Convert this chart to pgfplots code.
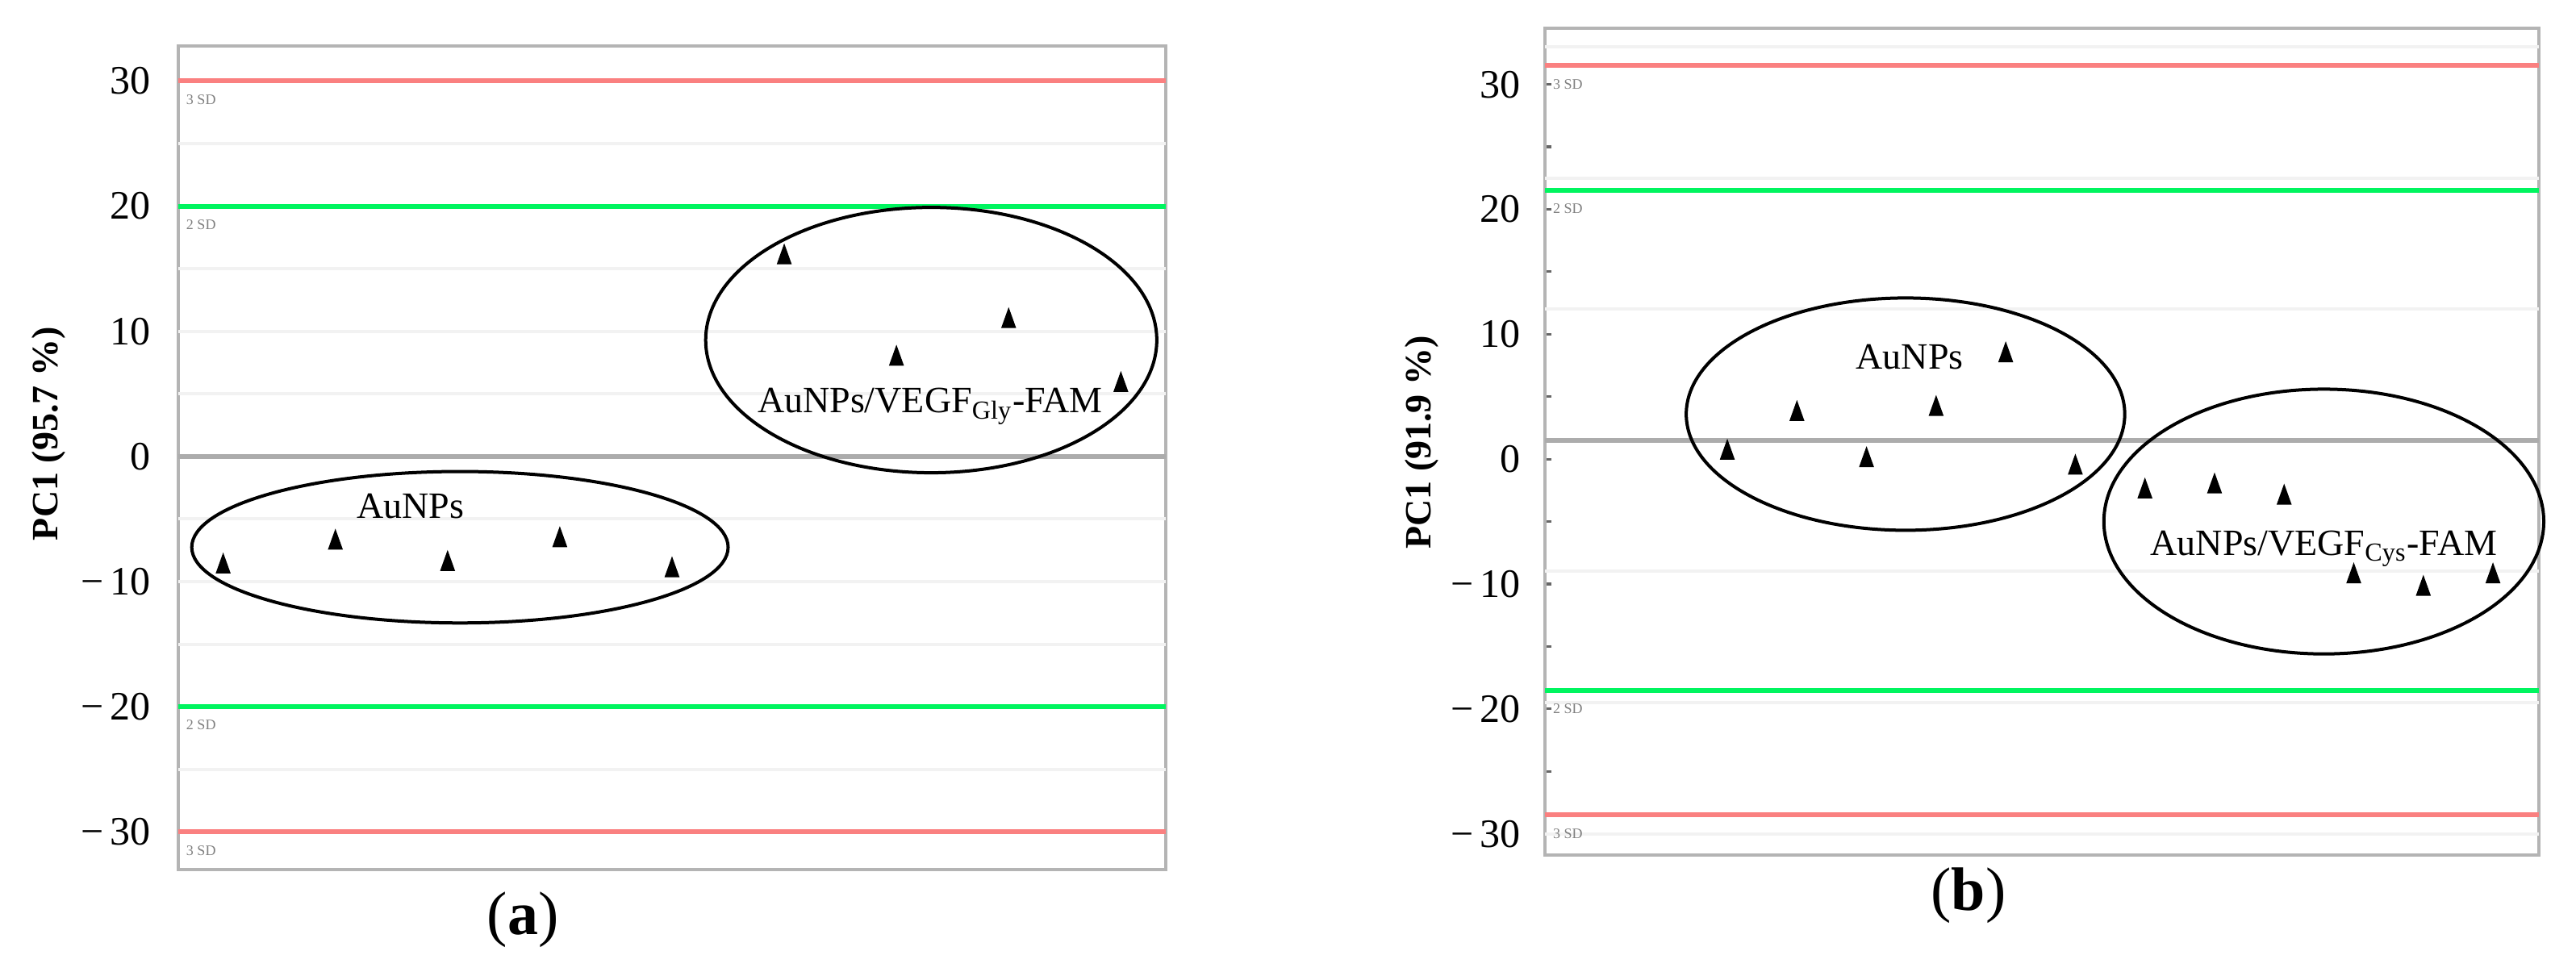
\documentclass[border=0pt]{standalone}
\usepackage{fontspec}
\setmainfont{Liberation Serif}
\usepackage{pgfplots}
\pgfplotsset{compat=1.18}

\definecolor{sdred}{RGB}{250,128,128}
\definecolor{sdgreen}{RGB}{0,245,95}
\definecolor{gridgray}{RGB}{242,242,242}
\definecolor{framegray}{RGB}{180,180,180}
\definecolor{meangray}{RGB}{172,172,172}

\pgfplotsset{
  pca/.style={
    scale only axis,
    anchor=south west,
    clip=false,
    axis line style={framegray, line width=1.1pt},
    xtick=\empty,
    ytick={-30,-20,-10,0,10,20,30},
    yticklabels={−\,30,−\,20,−\,10,0,10,20,30},
    ytick pos=left,
    minor ytick={-25,-15,-5,5,15,25},
    major tick length=2pt,
    minor tick length=2pt,
    tick style={black!60, line width=0.8pt},
    yticklabel style={font=\fontsize{12.5}{13}\selectfont},
    ylabel style={font=\fontsize{11.5}{12}\selectfont\bfseries, anchor=center},
  },
}
\tikzset{
  sd/.style={font=\fontsize{4.5}{5}\selectfont, text=gray, anchor=north west, inner sep=0pt},
  note/.style={font=\fontsize{11.5}{12}\selectfont},
}

\begin{document}
\begin{tikzpicture}
\path[use as bounding box] (0,0) rectangle (798.25pt,301.25pt);

% ---------- (a) ----------
\begin{axis}[pca,
  at={(55.25pt,31.75pt)}, width=306pt, height=255.25pt,
  xmin=0.6, xmax=9.4, ymin=-33.0, ymax=32.8,
  yticklabel style={xshift=-5pt},
  ylabel={PC1 (95.7 \%)},
  ylabel style={at={(axis description cs:-0.1315,0.529)}},
]
\pgfplotsinvokeforeach{-25,-15,-10,-5,5,10,15,25}{
  \addplot[gridgray, line width=1pt, forget plot] coordinates {(0.6,#1) (9.4,#1)};
}
\addplot[meangray, line width=1.3pt] coordinates {(0.6,0) (9.4,0)};
\addplot[sdgreen, line width=1.5pt] coordinates {(0.6,20) (9.4,20)};
\addplot[sdgreen, line width=1.5pt] coordinates {(0.6,-20) (9.4,-20)};
\addplot[sdred, line width=1.5pt] coordinates {(0.6,30) (9.4,30)};
\addplot[sdred, line width=1.5pt] coordinates {(0.6,-30) (9.4,-30)};
% samples
\addplot[only marks, mark=triangle*, mark size=3.8pt, mark options={black, xscale=0.62}]
  coordinates {(1,-8.8) (2,-6.9) (3,-8.6) (4,-6.7) (5,-9.1)
               (6,15.9) (7,7.8) (8,10.8) (9,5.7)};
\draw[line width=1pt] (axis cs:3.11,-7.25) ellipse [x radius=2.39, y radius=6.05];
\draw[line width=1pt] (axis cs:7.31,9.3) ellipse [x radius=2.01, y radius=10.6];
\node[note] at (axis cs:2.67,-4.0) {AuNPs};
\node[note] at (axis cs:7.3,4.0) {AuNPs/VEGF\textsubscript{Gly}-FAM};
\node[sd] at (axis cs:0.6,30) [xshift=2.3pt, yshift=-4pt] {3 SD};
\node[sd] at (axis cs:0.6,20) [xshift=2.3pt, yshift=-4pt] {2 SD};
\node[sd] at (axis cs:0.6,-20) [xshift=2.3pt, yshift=-4pt] {2 SD};
\node[sd] at (axis cs:0.6,-30) [xshift=2.3pt, yshift=-4pt] {3 SD};
\end{axis}

% ---------- (b) ----------
\begin{axis}[pca,
  at={(478.75pt,36.25pt)}, width=308pt, height=256.25pt,
  xmin=-1.62, xmax=12.66, ymin=-31.7, ymax=34.5,
  yticklabel style={xshift=-4pt},
  ylabel={PC1 (91.9 \%)},
  ylabel style={at={(axis description cs:-0.124,0.499)}},
]
\pgfplotsinvokeforeach{-30,-19.5,-9,12,22.5,33}{
  \addplot[gridgray, line width=1pt, forget plot] coordinates {(-1.62,#1) (12.66,#1)};
}
\addplot[meangray, line width=1.3pt] coordinates {(-1.62,1.5) (12.66,1.5)};
\addplot[sdgreen, line width=1.5pt] coordinates {(-1.62,21.5) (12.66,21.5)};
\addplot[sdgreen, line width=1.5pt] coordinates {(-1.62,-18.5) (12.66,-18.5)};
\addplot[sdred, line width=1.5pt] coordinates {(-1.62,31.5) (12.66,31.5)};
\addplot[sdred, line width=1.5pt] coordinates {(-1.62,-28.5) (12.66,-28.5)};
% samples
\addplot[only marks, mark=triangle*, mark size=3.8pt, mark options={black, xscale=0.62}]
  coordinates {(1,0.5) (2,3.6) (3,-0.1) (4,4.0) (5,8.3) (6,-0.7)
               (7,-2.6) (8,-2.2) (9,-3.1) (10,-9.4) (11,-10.4) (12,-9.4)};
\draw[line width=1pt] (axis cs:3.56,3.6) ellipse [x radius=3.15, y radius=9.3];
\draw[line width=1pt] (axis cs:9.57,-5.0) ellipse [x radius=3.16, y radius=10.6];
\node[note] at (axis cs:3.62,8.2) {AuNPs};
\node[note] at (axis cs:9.57,-7.2) {AuNPs/VEGF\textsubscript{Cys}-FAM};
\node[sd] at (axis cs:-1.62,31.5) [xshift=2.3pt, yshift=-4pt] {3 SD};
\node[sd] at (axis cs:-1.62,21.5) [xshift=2.3pt, yshift=-4pt] {2 SD};
\node[sd] at (axis cs:-1.62,-18.5) [xshift=2.3pt, yshift=-4pt] {2 SD};
\node[sd] at (axis cs:-1.62,-28.5) [xshift=2.3pt, yshift=-4pt] {3 SD};
\end{axis}

\node[font=\fontsize{19}{20}\selectfont] at (162pt,16.25pt) {(\textbf{a})};
\node[font=\fontsize{19}{20}\selectfont] at (610pt,23.75pt) {(\textbf{b})};
\end{tikzpicture}
\end{document}
